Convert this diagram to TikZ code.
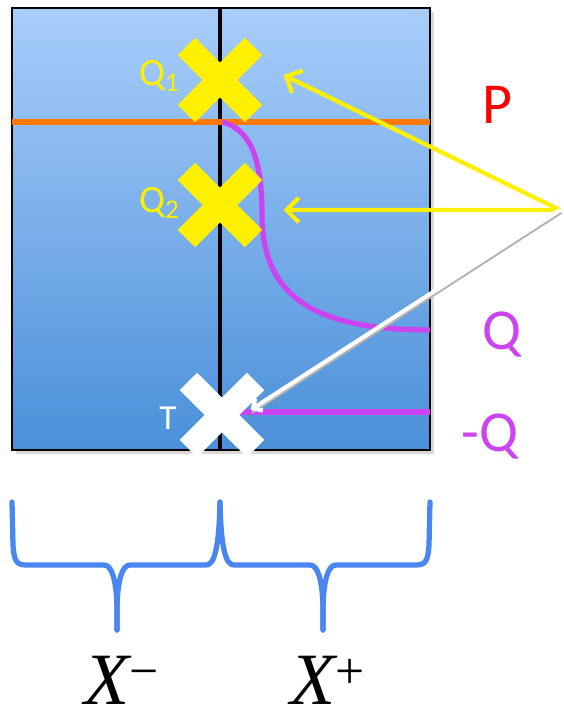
\documentclass[tikz,border=0pt]{standalone}
\usepackage{fontspec}
\setmainfont{Carlito}
\newfontfamily\xfont{Liberation Serif}
\usetikzlibrary{arrows.meta,shapes.misc,shadows}

\definecolor{boxtop}{RGB}{168,205,250}
\definecolor{boxbot}{RGB}{74,144,217}
\definecolor{pline}{RGB}{255,120,0}
\definecolor{qline}{RGB}{204,68,240}
\definecolor{ycross}{RGB}{255,240,0}
\definecolor{bracecol}{RGB}{74,134,240}

\tikzset{
  mark cross/.style={cross out, draw=#1, line width=14pt, line cap=butt,
    minimum size=0.85cm, inner sep=0pt},
  lbl/.style={font=\fontsize{33}{33}\selectfont},
  small lbl/.style={font=\fontsize{22}{22}\selectfont},
  pointer/.style={line width=2.4pt, -{Straight Barb[length=7pt,width=14pt,line width=2.4pt]}},
  brace/.style={draw=bracecol, line width=3pt, line cap=round, line join=round}
}

\begin{document}
\begin{tikzpicture}[x=0.02cm,y=-0.02cm]

    \useasboundingbox (0,0) rectangle (564,718);

    % box
    \shade[top color=boxtop, bottom color=boxbot, drop shadow={opacity=0.3}]
      (12,8) rectangle (430,450);
    \draw[line width=1.5pt] (12,8) rectangle (430,450);
    \draw[line width=2.5pt] (220,8) -- (220,450);

    % P
    \draw[pline, line width=3pt] (12,122) -- (430,122);
    \node[lbl, text=red] (plab) at (497,105) {P};

    % Q and -Q
    \draw[qline, line width=3pt] (222,122) .. controls (255,130) and (262,170) .. (262,215)
      .. controls (262,300) and (320,330) .. (430,330);
    \draw[qline, line width=3pt] (240,412) -- (430,412);
    \node[lbl, text=qline] (qlab) at (502,335) {Q};
    \node[lbl, text=qline] (mqlab) at (490,437) {-Q};

    % crosses
    \node[mark cross=ycross] (qone) at (220,80) {};
    \node[mark cross=ycross] (qtwo) at (220,205) {};
    \node[mark cross=white, drop shadow={opacity=0.4}] (tpt) at (222,415) {};
    \node[small lbl, text=ycross, anchor=east] at (186,76) {Q\textsubscript{1}};
    \node[small lbl, text=ycross, anchor=east] at (186,203) {Q\textsubscript{2}};
    \node[font=\fontsize{20}{20}\selectfont, text=white] at (168,418) {T};

    % pointers
    \coordinate (src) at (560,210);
    \draw[pointer, ycross] (src) -- ([xshift=0.6cm,yshift=0.1cm]qone.east);
    \draw[pointer, ycross] (src) -- ([xshift=0.6cm,yshift=-0.1cm]qtwo.east);
    \draw[black!30, line width=1.2pt, transform canvas={shift={(0.8pt,-1.6pt)}}]
      (src) -- ([xshift=-0.1cm,yshift=0.1cm]tpt.east);
    \draw[white, line width=2.4pt, -{Straight Barb[length=4pt,width=8pt]}]
      (src) -- ([xshift=-0.1cm,yshift=0.1cm]tpt.east);

    % braces
    \draw[brace] (12,502) -- (13,545) .. controls (14,560) and (16,565) .. (26,565) -- (104,565)
      .. controls (112,565) and (116,580) .. (117,605) -- (117,630);
    \draw[brace] (117,630) -- (117,605) .. controls (118,580) and (122,565) .. (130,565) -- (206,565)
      .. controls (214,565) and (219,550) .. (220,502);
    \draw[brace] (220,502) .. controls (221,550) and (226,565) .. (234,565) -- (310,565)
      .. controls (318,565) and (322,580) .. (323,605) -- (323,630);
    \draw[brace] (323,630) -- (323,605) .. controls (324,580) and (328,565) .. (336,565) -- (416,565)
      .. controls (426,565) and (428,560) .. (429,545) -- (430,502);
    \node[font=\fontsize{42}{42}\selectfont] (xm) at (122,680) {{\xfont\itshape X}\textsuperscript{\xfont−}};
    \node[font=\fontsize{42}{42}\selectfont] (xp) at (328,680) {{\xfont\itshape X}\textsuperscript{\xfont+}};

\end{tikzpicture}
\end{document}
